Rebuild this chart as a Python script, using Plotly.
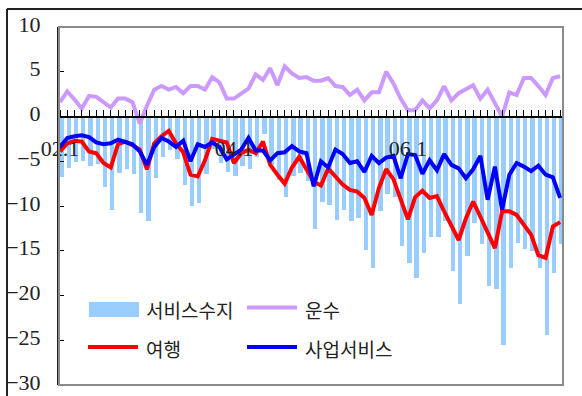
import plotly.graph_objects as go

# ---------------- data ----------------
years = [2002, 2003, 2004, 2005, 2006, 2007]
months = [f"{y % 100:02d}.{m}" for y in years for m in range(1, 13)][:70]
tick_labels = ["02.1", "04.1", "06.1"]
y_ticks = [-30, -25, -20, -15, -10, -5, 0, 5, 10]
series_names = ["서비스수지", "운수", "여행", "사업서비스"]

service_balance = [
    -6.8, -5.8, -5.1, -5.0, -5.5, -5.3, -7.9, -10.4, -6.3, -5.9, -6.4, -10.8,
    -11.7, -6.9, -4.5, -3.7, -4.7, -7.7, -10.0, -9.7, -6.4, -3.6, -5.2, -6.2,
    -6.7, -5.5, -5.9, -4.5, -2.0, -5.4, -7.1, -9.0, -6.6, -6.3, -7.2, -12.6,
    -9.5, -9.9, -11.6, -10.4, -11.7, -11.3, -14.9, -16.9, -10.6, -8.7, -9.0, -14.5,
    -16.4, -18.0, -15.3, -13.5, -13.5, -11.7, -17.3, -20.9, -15.6, -11.9, -14.2, -18.9,
    -19.3, -25.5, -16.9, -14.1, -14.8, -15.0, -16.9, -24.4, -17.5, -14.2,
]
transport = [
    1.6, 2.8, 1.9, 0.9, 2.3, 2.2, 1.6, 1.0, 2.0, 2.0, 1.6, -0.8,
    1.2, 3.0, 3.4, 3.0, 3.3, 2.6, 3.4, 3.4, 3.0, 4.4, 3.8, 2.0,
    2.0, 2.6, 3.1, 4.7, 4.1, 5.4, 3.5, 5.6, 4.8, 4.3, 4.4, 4.0,
    4.0, 4.3, 3.4, 3.3, 2.4, 3.0, 1.8, 2.7, 2.7, 5.0, 3.7, 2.0,
    0.7, 0.7, 1.8, 0.9, 1.8, 3.4, 1.8, 2.6, 3.1, 3.5, 2.0, 3.0,
    1.5, 0.0, 2.7, 2.4, 4.3, 4.3, 3.4, 2.4, 4.3, 4.5,
]
travel = [
    -3.9, -3.0, -2.7, -2.8, -3.9, -4.1, -5.2, -5.7, -3.1, -2.8, -3.2, -3.7,
    -5.9, -3.0, -2.2, -1.6, -3.0, -4.0, -6.5, -6.7, -4.9, -2.5, -2.7, -2.9,
    -5.2, -4.1, -3.7, -4.1, -2.8, -5.4, -6.5, -7.5, -5.7, -4.5, -5.9, -7.3,
    -7.7, -5.8, -6.7, -7.6, -8.2, -8.4, -9.1, -11.0, -8.0, -5.9, -7.0, -9.1,
    -11.5, -9.0, -8.3, -9.1, -8.9, -10.6, -12.3, -13.8, -11.4, -9.5, -11.2, -12.9,
    -14.7, -10.6, -10.6, -11.0, -12.1, -13.2, -15.5, -15.8, -12.3, -11.8,
]
business = [
    -3.4, -2.4, -2.2, -2.1, -2.3, -2.9, -3.1, -3.0, -2.6, -2.9, -3.1, -3.9,
    -5.4, -3.4, -2.4, -2.8, -3.4, -2.7, -5.0, -3.1, -3.4, -2.9, -3.4, -4.8,
    -4.2, -3.7, -2.4, -3.8, -3.8, -4.9, -4.1, -4.0, -3.3, -3.9, -4.1, -7.8,
    -5.0, -5.7, -3.7, -4.2, -5.2, -5.0, -6.2, -4.4, -5.2, -4.6, -4.4, -6.9,
    -4.2, -4.3, -6.4, -4.9, -6.0, -4.2, -5.4, -5.8, -6.9, -5.9, -4.4, -9.3,
    -5.6, -10.4, -6.5, -5.2, -5.6, -6.1, -5.5, -6.5, -6.8, -9.1,
]

# ---------------- styles ----------------
C_BAR = "#99CCFF"
C_TRANS = "#CC99FF"
C_TRAVEL = "#FF0000"
C_BUS = "#0000FF"
LINE_W = 4

W, H = 582, 396
L, R, T, B = 59, 19, 27, 11
PW, PH = W - L - R, H - T - B

def px(xp):
    return (xp - L) / PW

def py(yp):
    return (H - B - yp) / PH

x = list(range(len(months)))

fig = go.Figure()
fig.add_trace(go.Bar(x=x, y=service_balance, name=series_names[0],
                     marker=dict(color=C_BAR, line=dict(width=0)),
                     width=0.6, offset=-0.1, showlegend=False))
fig.add_trace(go.Scatter(x=x, y=transport, name=series_names[1], mode="lines",
                         line=dict(color=C_TRANS, width=LINE_W), showlegend=False))
fig.add_trace(go.Scatter(x=x, y=travel, name=series_names[2], mode="lines",
                         line=dict(color=C_TRAVEL, width=LINE_W), showlegend=False))
fig.add_trace(go.Scatter(x=x, y=business, name=series_names[3], mode="lines",
                         line=dict(color=C_BUS, width=LINE_W), showlegend=False))

ticktext = [m if m in tick_labels else "" for m in months]

fig.update_layout(
    template="none",
    width=W, height=H, autosize=False,
    margin=dict(l=L, r=R, t=T, b=B, pad=0, autoexpand=False),
    paper_bgcolor="white", plot_bgcolor="rgba(0,0,0,0)",
    font=dict(family="Liberation Serif", size=22, color="#222"),
    bargap=0, showlegend=False,
    xaxis=dict(
        range=[-0.14, 69.4], automargin=False,
        tickmode="array", tickvals=x, ticktext=ticktext,
        ticks="inside", ticklen=6, tickwidth=1, tickcolor="black",
        showline=True, linecolor="black", linewidth=2,
        anchor="free", position=0.75, side="bottom",
        showgrid=False, zeroline=False,
        ticklabelstandoff=12, ticklabeloverflow="allow",
        tickfont=dict(family="Liberation Serif", size=22, color="#222"),
    ),
    yaxis=dict(
        range=[-30, 10], automargin=False,
        tickmode="array", tickvals=y_ticks,
        ticks="inside", ticklen=5, tickwidth=1, tickcolor="black",
        showline=True, linecolor="#222", linewidth=2,
        showgrid=False, zeroline=False,
        ticklabelstandoff=12, ticklabeloverflow="allow", ticklabelshift=-3,
        tickfont=dict(family="Liberation Serif", size=22, color="#222"),
    ),
)

shapes = [
    # gray plot frame
    dict(type="rect", xref="paper", yref="paper", x0=0, y0=0, x1=1, y1=1,
         line=dict(color="#8a8a8a", width=2), layer="above"),
    # outer black frame (top and left edges)
    dict(type="line", xref="paper", yref="paper", x0=px(7), y0=py(9), x1=px(600), y1=py(9),
         line=dict(color="#222", width=2)),
    dict(type="line", xref="paper", yref="paper", x0=px(7), y0=py(9), x1=px(7), y1=py(420),
         line=dict(color="#222", width=2)),
    # legend symbols
    dict(type="rect", xref="paper", yref="paper", x0=px(89), x1=px(139), y0=py(317), y1=py(302),
         fillcolor=C_BAR, line=dict(width=0)),
    dict(type="line", xref="paper", yref="paper", x0=px(247), x1=px(297), y0=py(307.5), y1=py(307.5),
         line=dict(color=C_TRANS, width=LINE_W)),
    dict(type="line", xref="paper", yref="paper", x0=px(88), x1=px(138), y0=py(347), y1=py(347),
         line=dict(color=C_TRAVEL, width=LINE_W)),
    dict(type="line", xref="paper", yref="paper", x0=px(247), x1=px(297), y0=py(347), y1=py(347),
         line=dict(color=C_BUS, width=LINE_W)),
]
fig.update_layout(shapes=shapes)

legend_pos = [(144, 309), (303, 309), (144, 348), (303, 348)]
for name, (lx, ly) in zip(series_names, legend_pos):
    fig.add_annotation(text=name, xref="paper", yref="paper", x=px(lx), y=py(ly),
                       xanchor="left", yanchor="middle", showarrow=False,
                       font=dict(family="Noto Sans CJK KR", size=19, color="#222"))

fig.write_html(
    "out.html",
    config={"displayModeBar": False},
    post_script="document.body.style.margin='0';document.body.style.padding='0';",
)
